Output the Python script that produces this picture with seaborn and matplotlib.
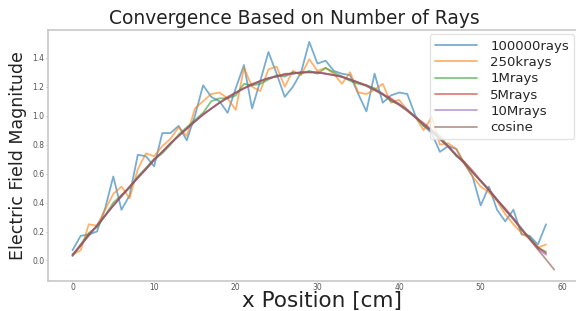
import numpy as np
import pandas as pd
import seaborn as sns
from matplotlib import pyplot as plt

# данные (x = 0, 1, 2, ... см)
rays_100k = [0.07, 0.17, 0.18, 0.20, 0.36, 0.58, 0.35, 0.45, 0.73, 0.72,
             0.65, 0.88, 0.88, 0.93, 0.83, 1.00, 1.21, 1.13, 1.10, 1.02,
             1.19, 1.35, 1.05, 1.24, 1.44, 1.29, 1.13, 1.20, 1.30, 1.51,
             1.36, 1.38, 1.31, 1.29, 1.28, 1.15, 1.03, 1.29, 1.09, 1.14,
             1.16, 1.15, 1.00, 0.93, 0.88, 0.75, 0.79, 0.77, 0.67, 0.58,
             0.38, 0.51, 0.35, 0.27, 0.35, 0.18, 0.17, 0.11, 0.25]
rays_250k = [0.04, 0.07, 0.25, 0.24, 0.35, 0.46, 0.51, 0.43, 0.63, 0.74,
             0.72, 0.79, 0.84, 0.92, 0.86, 1.05, 1.10, 1.15, 1.16, 1.12,
             1.04, 1.33, 1.20, 1.17, 1.32, 1.34, 1.20, 1.31, 1.28, 1.39,
             1.31, 1.33, 1.29, 1.22, 1.30, 1.16, 1.15, 1.18, 1.22, 1.09,
             1.11, 1.04, 0.99, 0.90, 0.99, 0.80, 0.81, 0.77, 0.67, 0.58,
             0.51, 0.47, 0.41, 0.32, 0.25, 0.19, 0.15, 0.09, 0.11]
rays_1m = [0.03, 0.11, 0.19, 0.23, 0.31, 0.40, 0.45, 0.50, 0.58, 0.64,
           0.70, 0.74, 0.80, 0.87, 0.92, 0.97, 1.02, 1.10, 1.12, 1.12,
           1.14, 1.22, 1.21, 1.22, 1.25, 1.28, 1.27, 1.30, 1.29, 1.31,
           1.29, 1.33, 1.30, 1.27, 1.24, 1.22, 1.21, 1.19, 1.15, 1.10,
           1.08, 1.04, 0.99, 0.93, 0.90, 0.86, 0.79, 0.72, 0.68, 0.61,
           0.55, 0.49, 0.42, 0.35, 0.29, 0.21, 0.16, 0.09, 0.06]
rays_5m = [0.04, 0.10, 0.18, 0.24, 0.31, 0.38, 0.45, 0.51, 0.57, 0.63,
           0.70, 0.75, 0.81, 0.86, 0.91, 0.96, 1.01, 1.05, 1.09, 1.13,
           1.16, 1.19, 1.22, 1.24, 1.26, 1.27, 1.29, 1.29, 1.30, 1.30,
           1.30, 1.29, 1.28, 1.27, 1.25, 1.23, 1.21, 1.18, 1.15, 1.12,
           1.08, 1.04, 0.99, 0.95, 0.90, 0.84, 0.79, 0.73, 0.68, 0.62,
           0.55, 0.49, 0.42, 0.36, 0.29, 0.22, 0.15, 0.09, 0.05]
rays_10m = [0.04, 0.11, 0.17, 0.24, 0.31, 0.38, 0.44, 0.51, 0.57, 0.63,
            0.69, 0.75, 0.81, 0.86, 0.91, 0.96, 1.01, 1.05, 1.09, 1.12,
            1.16, 1.19, 1.21, 1.24, 1.26, 1.27, 1.28, 1.29, 1.30, 1.30,
            1.30, 1.29, 1.28, 1.27, 1.25, 1.23, 1.21, 1.18, 1.15, 1.11,
            1.08, 1.04, 0.99, 0.94, 0.89, 0.84, 0.79, 0.73, 0.67, 0.61,
            0.55, 0.49, 0.42, 0.35, 0.29, 0.22, 0.15, 0.08, 0.04]
cosine = [0.035, 0.104, 0.174, 0.242, 0.311, 0.378, 0.444, 0.509, 0.572, 0.634,
          0.694, 0.752, 0.807, 0.861, 0.912, 0.961, 1.006, 1.048, 1.088, 1.124,
          1.158, 1.188, 1.215, 1.238, 1.257, 1.273, 1.285, 1.294, 1.299, 1.300,
          1.297, 1.291, 1.281, 1.267, 1.250, 1.229, 1.204, 1.176, 1.145, 1.111,
          1.073, 1.032, 0.988, 0.941, 0.892, 0.839, 0.785, 0.727, 0.670, 0.609,
          0.547, 0.483, 0.418, 0.351, 0.283, 0.215, 0.146, 0.076, 0.007, -0.063]

labels = ['100000rays', '250krays', '1Mrays', '5Mrays', '10Mrays', 'cosine']
series = [rays_100k, rays_250k, rays_1m, rays_5m, rays_10m, cosine]

# Оформление
sns.set_style('ticks', {'axes.edgecolor': '#c8c8c8'})
plt.rcParams['font.family'] = ['DejaVu Sans']

fig = plt.figure(figsize=(5.76, 3.11), dpi=100)
ax = fig.add_axes([0.084, 0.0965, 0.92, 0.8055])

colors = sns.color_palette('tab10', len(labels))
for lab, vals, col in zip(labels, series, colors):
    sns.lineplot(x=np.arange(len(vals)), y=vals, label=lab, color=col,
                 alpha=0.6, linewidth=1.3, ax=ax)

ax.set_title('Convergence Based on Number of Rays', fontsize=13.4, color='#222222',
             x=0.464, pad=5)
ax.set_xlabel('x Position [cm]', fontsize=15.5, color='#222222', va='baseline')
ax.xaxis.set_label_coords(0.517, -0.104)
ax.set_ylabel('Electric Field Magnitude', fontsize=12.5, color='#222222', labelpad=4)
ax.set_xticks([0, 10, 20, 30, 40, 50, 60])
ax.set_yticks([0.0, 0.2, 0.4, 0.6, 0.8, 1.0, 1.2, 1.4])
ax.tick_params(labelsize=5.5, labelcolor='#555555', color='#aaaaaa', length=1.5, width=0.6, pad=1.5)
ax.tick_params(axis='x', length=1, pad=0.3)
for s in ax.spines.values():
    s.set_linewidth(1.2)

leg = ax.legend(loc='upper right', fontsize=9.5, frameon=True, handlelength=3.2,
                handletextpad=1.0, borderaxespad=0.3, labelspacing=0.25)
leg.get_frame().set_edgecolor('#dddddd')

fig.savefig('out.png', dpi=100)
